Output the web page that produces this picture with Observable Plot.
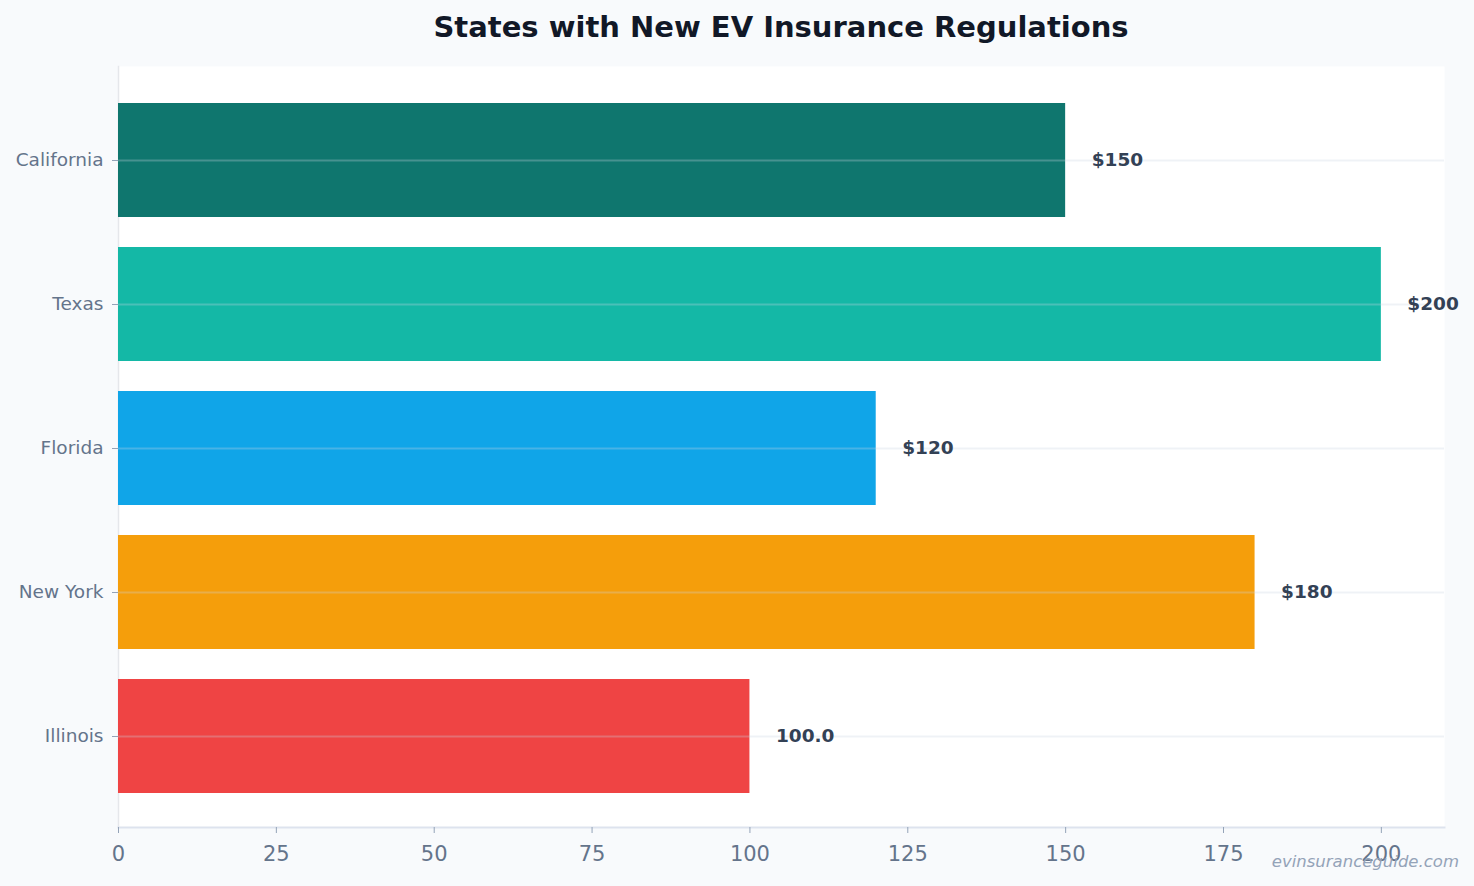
<!DOCTYPE html>
<html>
<head>
<meta charset="utf-8">
<script src="https://cdn.jsdelivr.net/npm/d3@7"></script>
<script src="https://cdn.jsdelivr.net/npm/@observablehq/plot@0.6"></script>
<style>
  html, body { margin: 0; padding: 0; background: #f8fafc; }
  body { width: 1474px; height: 886px; position: relative; overflow: hidden; font-family: "DejaVu Sans", sans-serif; }
  #title {
    position: absolute; left: 118px; width: 1326px; top: 9px;
    text-align: center; font-size: 29px; font-weight: bold; color: #111827;
    line-height: 36px;
  }
  #chart { position: absolute; left: 0; top: 55px; }
  #credit {
    position: absolute; right: 15px; top: 852px;
    font-size: 16.5px; font-style: italic; color: #94a3b8;
  }
</style>
</head>
<body>
<div id="title">States with New EV Insurance Regulations</div>
<div id="chart"></div>
<div id="credit">evinsuranceguide.com</div>
<script>
// Premium change per state (USD) and how each bar is labelled
const states = ["California", "Texas", "Florida", "New York", "Illinois"];
const values = [150, 200, 120, 180, 100];
const labels = ["$150", "$200", "$120", "$180", "100.0"];
const colors = ["#0f766e", "#14b8a6", "#10a5e8", "#f59e0b", "#ef4444"];
const xTicks = [0, 25, 50, 75, 100, 125, 150, 175, 200];

const rows = states.map((s, i) => ({state: s, value: values[i], label: labels[i], color: colors[i]}));

const chart = Plot.plot({
  width: 1474,
  height: 831,
  marginLeft: 118,
  marginRight: 30,
  marginTop: 11,
  marginBottom: 59,
  style: {background: "transparent", fontFamily: "DejaVu Sans, sans-serif", color: "#64748b"},
  x: {domain: [0, 210], ticks: xTicks, label: null},
  y: {domain: states, paddingInner: 0.208, paddingOuter: 0.246, align: 0.52, label: null},
  marks: [
    Plot.frame({fill: "white", stroke: null}),
    Plot.frame({anchor: "left", stroke: "#e5e7eb", strokeWidth: 1.5}),
    Plot.frame({anchor: "bottom", stroke: "#dde3ee", strokeWidth: 2}),
    Plot.barX(rows, {x: "value", y: "state", fill: "color"}),
    Plot.gridY({stroke: "#cbd5e1", strokeOpacity: 0.3, strokeWidth: 2}),
    Plot.axisY({tickSize: 6, tickPadding: 9, fontSize: 18.5, stroke: "#94a3b8", fill: "#64748b"}),
    Plot.axisX({ticks: xTicks, tickSize: 6, tickPadding: 13, fontSize: 21, stroke: "#94a3b8", fill: "#64748b"}),
    Plot.text(rows, {x: "value", y: "state", text: "label", dx: 26, textAnchor: "start",
      fontWeight: "bold", fontSize: 18.5, fill: "#334155"})
  ]
});
document.getElementById("chart").appendChild(chart);
</script>
</body>
</html>
